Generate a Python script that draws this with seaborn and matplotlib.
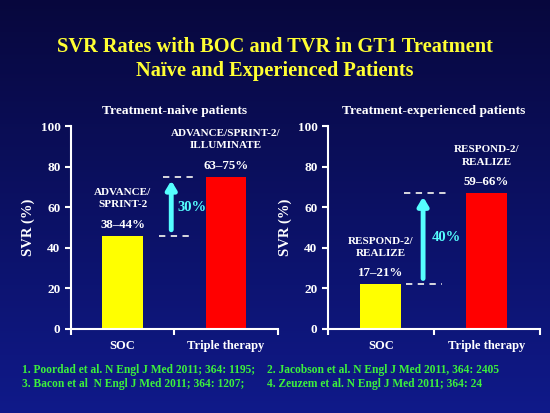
import numpy as np
import pandas as pd
import matplotlib
matplotlib.use("Agg")
import matplotlib.pyplot as plt
import seaborn as sns

# data
groups = ["SOC", "Triple therapy"]
naive_svr = [46, 75]
experienced_svr = [22, 67]
naive_trials = ["ADVANCE/\nSPRINT-2", "ADVANCE/SPRINT-2/\nILLUMINATE"]
naive_ranges = ["38\u201344%", "63\u201375%"]
exp_trials = ["RESPOND-2/\nREALIZE", "RESPOND-2/\nREALIZE"]
exp_ranges = ["17\u201321%", "59\u201366%"]
gains = ["30%", "40%"]
refs = ["1. Poordad et al. N Engl J Med 2011; 364: 1195;",
        "2. Jacobson et al. N Engl J Med 2011, 364: 2405",
        "3. Bacon et al  N Engl J Med 2011; 364: 1207;",
        "4. Zeuzem et al. N Engl J Med 2011; 364: 24"]

sns.set_style("white")
plt.rcParams["font.family"] = ["Liberation Serif", "DejaVu Serif"]
plt.rcParams["font.weight"] = "bold"

fig = plt.figure(figsize=(5.5, 4.13), dpi=100)

# gradient background
bg = fig.add_axes([0, 0, 1, 1], zorder=-10)
top = np.array([0.03, 0.03, 0.24])
bot = np.array([0.06, 0.10, 0.54])
t = np.linspace(0, 1, 200)[:, None]
grad = top + (bot - top) * t
bg.imshow(grad[:, None, :].repeat(2, axis=1), aspect="auto", extent=[0, 1, 0, 1])
bg.set_axis_off()

fig.text(0.5, 0.887, "SVR Rates with BOC and TVR in GT1 Treatment", ha="center", va="center",
         color="#ffff33", fontsize=14.7, fontweight="bold")
fig.text(0.5, 0.827, "Na\u00efve and Experienced Patients", ha="center", va="center",
         color="#ffff33", fontsize=14.7, fontweight="bold")


def panel(rect, values, trials, ranges, title, gain, arrow_x, dash_x, gain_xy):
    ax = fig.add_axes(rect)
    df = pd.DataFrame({"group": groups, "svr": values})
    sns.barplot(data=df, x="group", y="svr", hue="group",
                palette=["#ffff00", "#ff0000"], width=0.39, ax=ax, legend=False,
                saturation=1, edgecolor="none", linewidth=0)
    ax.set_facecolor("none")
    ax.set_xlim(-0.5, 1.5)
    ax.set_ylim(0, 100)
    ax.set_yticks([0, 20, 40, 60, 80, 100])
    ax.set_xlabel("")
    ax.set_ylabel("SVR (%)", color="white", fontsize=10.5, fontweight="bold", labelpad=4)
    for s in ["top", "right"]:
        ax.spines[s].set_visible(False)
    for s in ["left", "bottom"]:
        ax.spines[s].set_color("white")
        ax.spines[s].set_linewidth(1.5)
    ax.tick_params(axis="y", colors="white", labelsize=9.5, length=4, width=1.5, direction="out", left=True)
    ax.tick_params(axis="x", colors="white", labelsize=9, length=0, pad=8)
    ax.set_xticks([-0.5, 0.5, 1.5], minor=True)
    ax.tick_params(axis="x", which="minor", length=4, width=1.5, color="white", bottom=True)
    for lab in ax.get_xticklabels() + ax.get_yticklabels():
        lab.set_fontweight("bold")
    ax.set_title(title, color="white", fontsize=9.7, fontweight="bold", pad=9)
    for i, v in enumerate(values):
        ax.text(i, v + 2.5, ranges[i], ha="center", va="bottom", color="white",
                fontsize=9.3, fontweight="bold")
        ax.text(i, v + 13, trials[i], ha="center", va="bottom", color="white",
                fontsize=8, fontweight="bold", linespacing=1.45)
    lo, hi = values
    ax.hlines([hi], dash_x[0], dash_x[1], colors="#e8e8e8", linestyles=(0, (3.5, 3)), lw=1.3)
    ax.hlines([lo], dash_x[2], dash_x[3], colors="#e8e8e8", linestyles=(0, (3.5, 3)), lw=1.3)
    ax.annotate("", xy=(arrow_x, hi - 0.5), xytext=(arrow_x, lo + 1.5),
                arrowprops=dict(arrowstyle="-|>,head_width=0.3,head_length=0.5",
                                color="#55ffff", lw=3.5))
    ax.text(gain_xy[0], gain_xy[1], gain, color="#55ffff", fontsize=10.5,
            fontweight="bold", ha="left", va="center")
    return ax


panel([0.129, 0.2034, 0.376, 0.4915], naive_svr, naive_trials, naive_ranges,
      "Treatment-naive patients", gains[0], 0.47, (0.39, 0.71, 0.35, 0.67), (0.53, 60))
panel([0.596, 0.2034, 0.385, 0.4915], experienced_svr, exp_trials, exp_ranges,
      "Treatment-experienced patients", gains[1], 0.40, (0.22, 0.63, 0.24, 0.58), (0.48, 45))

fig.text(0.04, 0.104, refs[0], color="#3cf03c", fontsize=8.3, fontweight="bold", va="center")
fig.text(0.486, 0.104, refs[1], color="#3cf03c", fontsize=8.3, fontweight="bold", va="center")
fig.text(0.04, 0.07, refs[2], color="#3cf03c", fontsize=8.3, fontweight="bold", va="center")
fig.text(0.486, 0.07, refs[3], color="#3cf03c", fontsize=8.3, fontweight="bold", va="center")

fig.savefig("out.png", dpi=100)
